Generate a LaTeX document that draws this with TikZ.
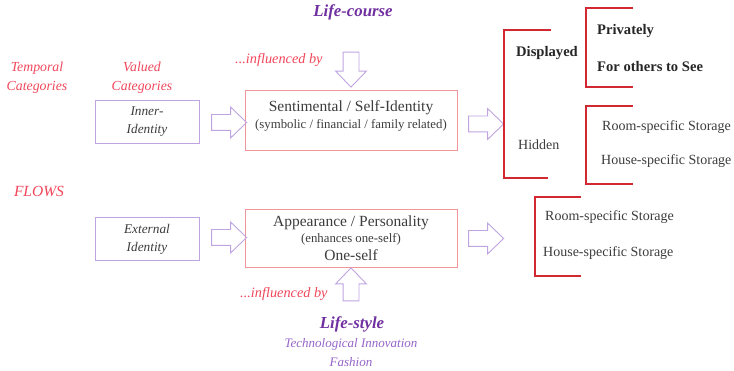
\documentclass[tikz,border=0pt]{standalone}
\usepackage{fontspec}
\setmainfont{Liberation Serif}
\usetikzlibrary{shapes.arrows}
\definecolor{redtxt}{RGB}{240,70,90}
\definecolor{purpdark}{RGB}{112,48,160}
\definecolor{purplight}{RGB}{150,100,200}
\definecolor{boxpurple}{RGB}{190,165,225}
\definecolor{boxpink}{RGB}{240,150,155}
\definecolor{brack}{RGB}{210,40,50}
\definecolor{gtxt}{RGB}{60,60,60}
\begin{document}
\begin{tikzpicture}[x=1pt,y=-1pt,
  redlabel/.style={text=redtxt, font=\fontsize{13.8}{19}\selectfont\itshape, align=center, inner sep=0pt},
  idbox/.style={draw=boxpurple, minimum width=104pt, minimum height=43pt, text=gtxt, font=\fontsize{13.3}{18}\selectfont\itshape, align=center, line width=0.8pt},
  mainbox/.style={draw=boxpink, minimum width=212pt, line width=0.8pt, inner sep=0pt},
  bigline/.style={text=gtxt, font=\fontsize{15.5}{17}\selectfont, inner sep=0pt},
  smallline/.style={text=gtxt, font=\fontsize{12.8}{14}\selectfont, inner sep=0pt},
  hollow/.style={single arrow, draw=boxpurple, line width=0.9pt, inner sep=7.5pt, single arrow head extend=7.5pt, minimum height=35pt, single arrow tip angle=88},
  rtext/.style={anchor=west, text=gtxt, font=\fontsize{14}{16}\selectfont, inner sep=0pt},
  rbold/.style={rtext, text=black!85, font=\fontsize{14.6}{16}\selectfont\bfseries},
  brk/.style={draw=brack, line width=1.4pt},
  lifehead/.style={text=purpdark, font=\fontsize{16.8}{18}\selectfont\bfseries\itshape, inner sep=0pt},
  lifesub/.style={text=purplight, font=\fontsize{13}{19}\selectfont\itshape, align=center, inner sep=0pt}
]
\useasboundingbox (0,0) rectangle (734,371);

% left labels
\node[redlabel] (temporal) at (37,78) {Temporal\\Categories};
\node[redlabel] (valued) at (142,78) {Valued\\Categories};
\node[redlabel, font=\fontsize{15.5}{19}\selectfont\itshape] (flows) at (39,191) {FLOWS};

% top row
\node[idbox] (inner) at (147,121.5) {Inner-\\Identity};
\node[mainbox, minimum height=60pt] (senti) at (351,120) {};
\node[bigline, anchor=base] (senti1) at (351,112) {Sentimental / Self-Identity};
\node[smallline, anchor=base] (senti2) at (351,128.5) {(symbolic / financial / family related)};
\node[hollow] (a1) at (225,122.5) {};
\node[hollow] (a2) at (482,124) {};

% top influence
\node[lifehead] (lifecourse) at (353,12) {Life-course};
\node[redlabel, anchor=west, font=\fontsize{14.3}{16}\selectfont\itshape] (infl1) at (235,60) {...influenced by};
\node[hollow, shape border rotate=270] (a5) at (351,65.5) {};

% bottom row
\node[idbox] (external) at (147,239) {External\\Identity};
\node[mainbox, minimum height=58pt] (appear) at (351,238) {};
\node[bigline, anchor=base] (app1) at (351,227) {Appearance / Personality};
\node[smallline, anchor=base] (app2) at (351,242.5) {(enhances one-self)};
\node[bigline, anchor=base] (app3) at (351,261) {One-self};
\node[hollow] (a3) at (225,237.5) {};
\node[hollow] (a4) at (482,238.5) {};

% bottom influence
\node[hollow, shape border rotate=90, minimum height=33pt] (a6) at (351,288.5) {};
\node[redlabel, anchor=west, font=\fontsize{14.3}{16}\selectfont\itshape] (infl2) at (240,294) {...influenced by};
\node[lifehead] (lifestyle) at (352,324) {Life-style};
\node[lifesub] (techno) at (351,352.5) {Technological Innovation\\Fashion};

% right side brackets
\draw[brk] (551,30) -- (504,30) -- (504,178) -- (548,178);
\draw[brk] (633,8) -- (586,8) -- (586,87) -- (633,87);
\draw[brk] (633,106) -- (586,106) -- (586,184) -- (633,184);
\draw[brk] (581,197) -- (535,197) -- (535,276) -- (581,276);

\node[rbold] (displayed) at (516,53) {Displayed};
\node[rtext] (hidden) at (518,145) {Hidden};
\node[rbold] (privately) at (597,31) {Privately};
\node[rbold] (others) at (597,67) {For others to See};
\node[rtext] (room1) at (602,127) {Room-specific Storage};
\node[rtext] (house1) at (601,161) {House-specific Storage};
\node[rtext] (room2) at (545,217) {Room-specific Storage};
\node[rtext] (house2) at (543,253) {House-specific Storage};
\end{tikzpicture}
\end{document}
